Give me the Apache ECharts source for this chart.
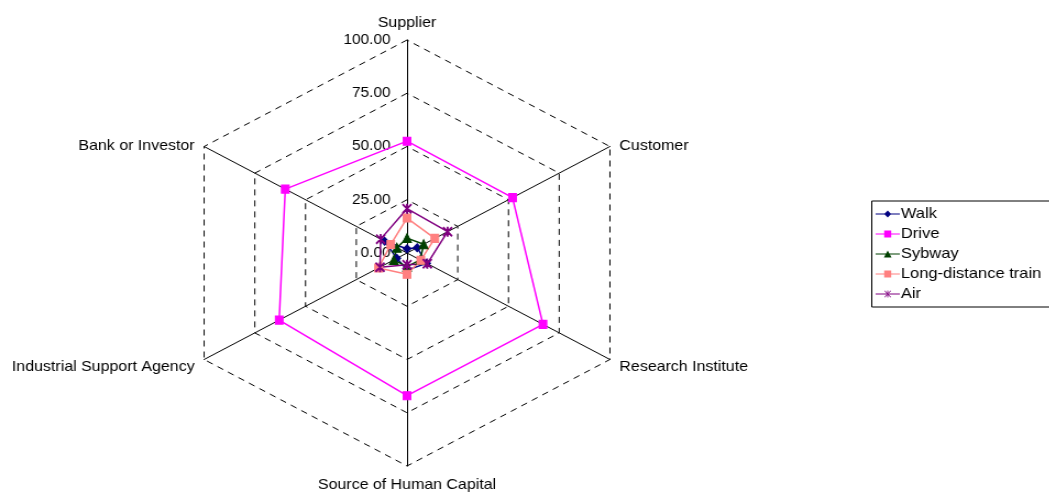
<!DOCTYPE html>
<html>
<head>
<meta charset="utf-8">
<script src="https://cdn.jsdelivr.net/npm/echarts@6/dist/echarts.min.js"></script>
<style>
html,body{margin:0;padding:0;background:#fff;overflow:hidden;width:1049px;height:493px}
/* The reference plot is stretched ~10% horizontally (Excel aspect); reproduce with a uniform x-scale */
#c{width:954px;height:493px;transform:scaleX(1.1);transform-origin:0 0}
</style>
</head>
<body>
<div id="c"></div>
<script>
// Categories in clockwise order starting at top
const categories = ['Supplier', 'Customer', 'Research Institute', 'Source of Human Capital', 'Industrial Support Agency', 'Bank or Investor'];
const seriesNames = ['Walk', 'Drive', 'Sybway', 'Long-distance train', 'Air'];
const walk   = [2, 5, 9.7, 8, 5, 11];
const drive  = [52.5, 52, 67, 67, 63, 60];
const sybway = [7, 8.2, 6.5, 6.4, 6.5, 5];
const longTrain = [16.4, 13.7, 6.8, 10, 14, 8];
const air    = [20.8, 20, 10, 5.5, 13.3, 13];
const axisMax = 100;
const axisTicks = [0, 25, 50, 75, 100];

const seriesValues = [walk, drive, sybway, longTrain, air];
const colors = ['#000080', '#FF00FF', '#004000', '#FF8080', '#800080'];
const starPath = 'path://M4.5 0H5.5V10H4.5Z M0 0.7L0.7 0L10 9.3L9.3 10Z M10 0.7L9.3 0L0 9.3L0.7 10Z';
const symbols = ['diamond', 'rect', 'triangle', 'rect', starPath];
const symbolSizes = [[7, 8], [7, 8], [8, 9], [7, 8], [8, 9]];
const legendIcons = [
  'path://M0 4.5H22V5.5H0Z M11 1.5L14.2 5L11 8.5L7.8 5Z',
  'path://M0 4.5H22V5.5H0Z M7.8 1.5H14.2V8.5H7.8Z',
  'path://M0 4.5H22V5.5H0Z M11 1.5L14.5 8.5H7.5Z',
  'path://M0 4.5H22V5.5H0Z M7.8 1.5H14.2V8.5H7.8Z',
  'path://M0 4.5H22V5.5H0Z M10.6 1.5H11.4V8.5H10.6Z M8 2L8.5 1.5L14 8L13.5 8.5Z M14 2L13.5 1.5L8 8L8.5 8.5Z'
];

// ECharts radar goes counter-clockwise; reorder so visual order matches reference
const order = [0, 5, 4, 3, 2, 1];
const indicator = order.map((i, k) => {
  const o = { name: categories[i], max: axisMax, min: 0 };
  if (k === 0) o.axisLabel = { show: true };
  return o;
});

const FONT = 'Liberation Sans, Arial, Helvetica, sans-serif';
const nameStyle = { color: '#000', fontSize: 14.5, fontFamily: FONT };
const nameFormatter = name => {
  const i = categories.indexOf(name);
  if (i === 1 || i === 5) return '{u|' + name + '}';
  if (i === 2 || i === 4) return '{l|' + name + '}';
  if (i === 3) return '{b|' + name + '}';
  return name;
};
const chart = echarts.init(document.getElementById('c'));
chart.setOption({
  animation: false,
  textStyle: { fontFamily: FONT },
  legend: {
    orient: 'vertical',
    left: 792.5,
    top: 201,
    padding: [5, 60, 5, 3.5],
    itemGap: 4,
    itemWidth: 22,
    itemHeight: 7,
    borderColor: '#000',
    borderWidth: 1,
    borderRadius: 0,
    textStyle: { color: '#000', fontSize: 15, fontFamily: FONT, padding: [0, 0, 0, -4], lineHeight: 16 },
    data: seriesNames.map((n, i) => ({ name: n, icon: legendIcons[i], itemStyle: { color: colors[i] } }))
  },
  radar: {
    center: [370, 253],
    radius: 213,
    startAngle: 90,
    shape: 'polygon',
    splitNumber: axisTicks.length - 1,
    nameGap: 10,
    axisName: {
      color: '#000', fontSize: 14.5, fontFamily: FONT,
      formatter: nameFormatter,
      rich: {
        u: Object.assign({ padding: [8, 0, 0, 0] }, nameStyle),
        l: Object.assign({ padding: [4, 0, 0, 0] }, nameStyle),
        b: Object.assign({ padding: [1, 0, 0, 0] }, nameStyle)
      }
    },
    axisLine: { show: true, lineStyle: { color: '#000', width: 1 } },
    axisTick: { show: false },
    axisLabel: {
      show: false, color: '#000', fontSize: 14, fontFamily: FONT, margin: 15,
      showMinLabel: true, showMaxLabel: true,
      formatter: v => Number(v).toFixed(2)
    },
    splitLine: { lineStyle: { color: '#000', type: [6, 5], width: 1 } },
    splitArea: { show: false },
    indicator: indicator
  },
  series: [{
    type: 'radar',
    data: seriesNames.map((n, i) => ({
      name: n,
      value: order.map(j => seriesValues[i][j]),
      symbol: symbols[i],
      symbolSize: symbolSizes[i],
      itemStyle: { color: colors[i], borderColor: colors[i] },
      lineStyle: { color: colors[i], width: 1.5 }
    }))
  }]
});
</script>
</body>
</html>
